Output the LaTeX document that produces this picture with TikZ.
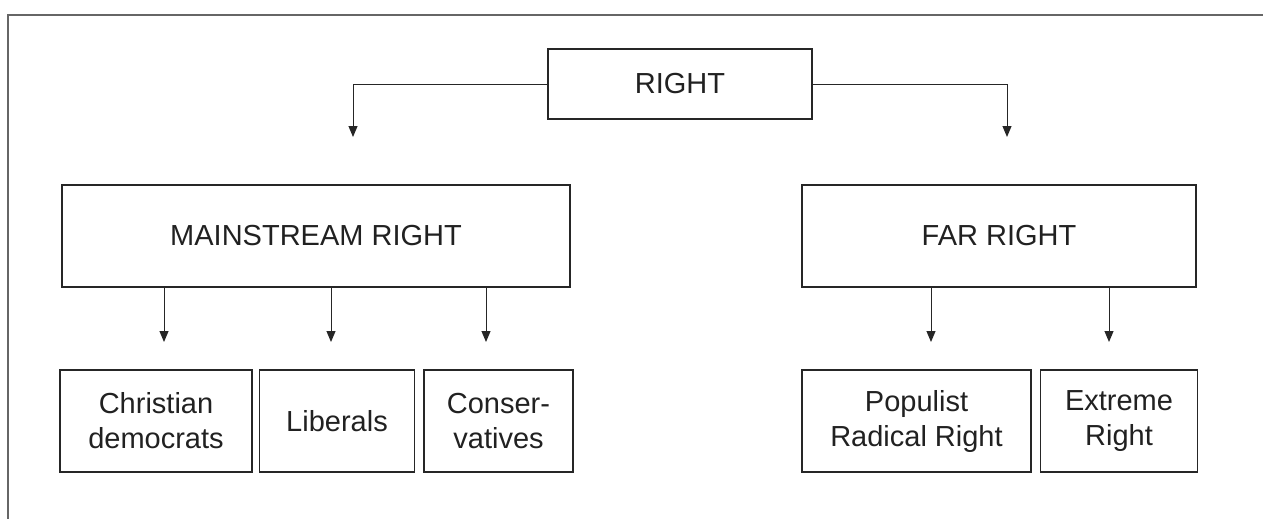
\documentclass[tikz,border=0pt]{standalone}
\usepackage{fontspec}
\setmainfont{Liberation Sans}
\usetikzlibrary{arrows.meta,positioning}

\begin{document}
\begin{tikzpicture}[x=1pt, y=-1pt,
    box/.style = {draw=black!85, line width=1.5pt, inner sep=0pt, align=center,
        text=black!87, font=\fontsize{29}{35}\selectfont},
    arr/.style = {draw=black!85, line width=1pt, -{Triangle[length=11pt, width=9pt]}}]
    \useasboundingbox (0,0) rectangle (1263,519);
    % open frame
    \draw[black!60, line width=1.5pt] (1263,15) -- (8,15) -- (8,519);

    \node[box, minimum width=264pt, minimum height=70pt] (r) at (680,84) {RIGHT};
    \node[box, minimum width=508pt, minimum height=102pt] (main) at (316,236) {MAINSTREAM RIGHT};
    \node[box, minimum width=394pt, minimum height=102pt] (far) at (999,236) {FAR RIGHT};

    \node[box, minimum width=192pt, minimum height=102pt] (cd) at (156,421) {Christian\\democrats};
    \node[box, minimum width=155pt, minimum height=102pt] (lib) [right=6pt of cd] {Liberals};
    \node[box, minimum width=149pt, minimum height=102pt] (con) [right=8pt of lib] {Conser-\\vatives};
    \node[box, minimum width=229pt, minimum height=102pt] (prr) at (916.5,421) {Populist\\Radical Right};
    \node[box, minimum width=157pt, minimum height=102pt] (ext) [right=8pt of prr] {Extreme\\Right};

    % arrow ends
    \coordinate (lt) at (353,137);
    \coordinate (rt) at (1007,137);
    \coordinate (a1) at (164,342);
    \coordinate (a2) at (331,342);
    \coordinate (a3) at (486,342);
    \coordinate (a4) at (931,342);
    \coordinate (a5) at (1109,342);

    \draw[arr] (r.west) -| (lt);
    \draw[arr] (r.east) -| (rt);
    \draw[arr] (main.south -| a1) -- (a1);
    \draw[arr] (main.south -| a2) -- (a2);
    \draw[arr] (main.south -| a3) -- (a3);
    \draw[arr] (far.south -| a4) -- (a4);
    \draw[arr] (far.south -| a5) -- (a5);
\end{tikzpicture}
\end{document}
